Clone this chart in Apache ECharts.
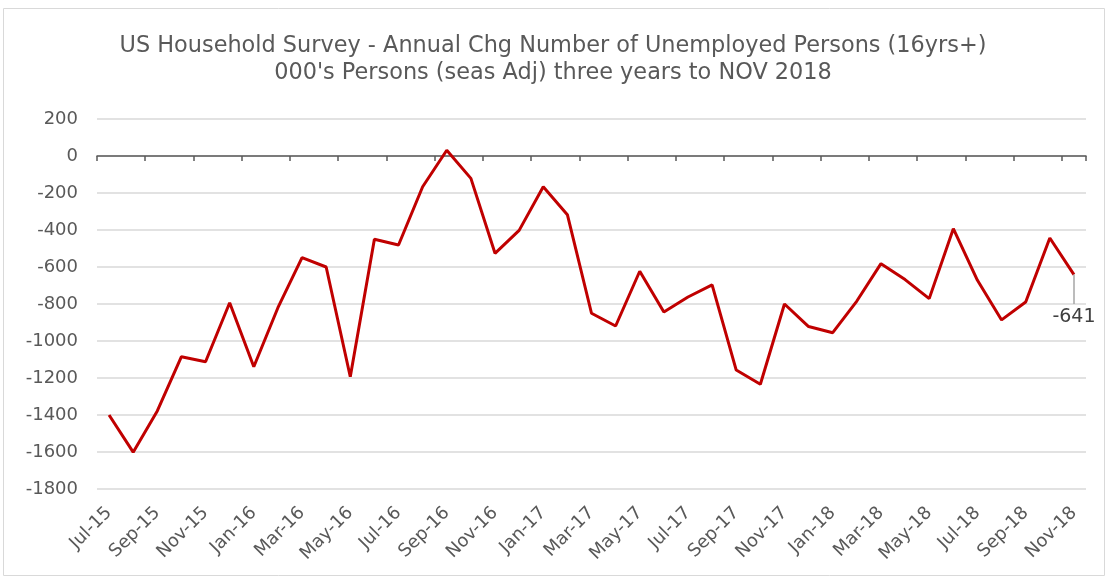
<!DOCTYPE html>
<html>
<head>
<meta charset="utf-8">
<script src="https://cdn.jsdelivr.net/npm/echarts@6/dist/echarts.min.js"></script>
<style>
  html, body { margin: 0; padding: 0; background: #fff; }
  #chart { width: 1106px; height: 578px; }
</style>
</head>
<body>
<div id="chart"></div>
<script>
var months = [
  'Jul-15', 'Aug-15', 'Sep-15', 'Oct-15', 'Nov-15', 'Dec-15',
  'Jan-16', 'Feb-16', 'Mar-16', 'Apr-16', 'May-16', 'Jun-16',
  'Jul-16', 'Aug-16', 'Sep-16', 'Oct-16', 'Nov-16', 'Dec-16',
  'Jan-17', 'Feb-17', 'Mar-17', 'Apr-17', 'May-17', 'Jun-17',
  'Jul-17', 'Aug-17', 'Sep-17', 'Oct-17', 'Nov-17', 'Dec-17',
  'Jan-18', 'Feb-18', 'Mar-18', 'Apr-18', 'May-18', 'Jun-18',
  'Jul-18', 'Aug-18', 'Sep-18', 'Oct-18', 'Nov-18'
]
var annualChg = [
  -1400, -1601, -1378, -1085, -1112, -793,
  -1139, -820, -549, -600, -1193, -450,
  -481, -166, 31, -121, -526, -402,
  -166, -317, -850, -919, -623, -843,
  -762, -697, -1157, -1234, -800, -922,
  -955, -784, -582, -668, -771, -393,
  -672, -886, -789, -443, -641
]
// the callout leader runs from the last value down to this level
var calloutTo = -800
var grey = '#595959'
var font = 'DejaVu Sans, sans-serif'

var lastIdx = annualChg.length - 1

var chart = echarts.init(document.getElementById('chart'))
chart.setOption({
  animation: false,
  title: {
    text: 'US Household Survey - Annual Chg Number of Unemployed Persons (16yrs+)\n000\'s Persons (seas Adj) three years to NOV 2018',
    left: 'center',
    top: 28,
    textStyle: {
      color: grey,
      fontSize: 22.4,
      fontWeight: 'normal',
      fontFamily: font,
      lineHeight: 27
    }
  },
  graphic: [{
    type: 'rect',
    shape: { x: 3.5, y: 8.5, width: 1101, height: 567 },
    style: { fill: 'none', stroke: '#d9d9d9', lineWidth: 1 },
    silent: true
  }],
  grid: { left: 97, right: 20, top: 119, bottom: 89 },
  xAxis: [
    {
      type: 'category',
      data: months,
      boundaryGap: true,
      axisLine: { onZero: true, lineStyle: { color: '#595959', width: 1.5 } },
      axisTick: { show: true, interval: 1, length: 5, lineStyle: { color: '#595959', width: 1.5 } },
      axisLabel: { show: false },
      splitLine: { show: false }
    },
    {
      type: 'category',
      data: months,
      position: 'bottom',
      boundaryGap: true,
      axisLine: { show: false, onZero: false },
      axisTick: { show: false },
      axisLabel: {
        interval: 1,
        rotate: 45,
        margin: 21,
        color: grey,
        fontSize: 18,
        fontFamily: font
      },
      splitLine: { show: false }
    }
  ],
  yAxis: {
    type: 'value',
    min: -1800,
    max: 200,
    interval: 200,
    axisLine: { show: false },
    axisTick: { show: false },
    axisLabel: {
      margin: 19,
      color: grey,
      fontSize: 18,
      fontFamily: font,
      formatter: function (v) { return String(v) }
    },
    splitLine: { lineStyle: { color: '#d9d9d9', width: 1.5 } }
  },
  series: [{
    type: 'line',
    xAxisIndex: 0,
    data: annualChg,
    symbol: 'none',
    lineStyle: { color: '#c00000', width: 3 },
    itemStyle: { color: '#c00000' },
    z: 3,
    markLine: {
      silent: true,
      symbol: 'none',
      lineStyle: { color: '#a6a6a6', width: 1.5, type: 'solid' },
      label: {
        position: 'end',
        distance: 4,
        color: '#404040',
        fontSize: 19,
        fontFamily: font,
        formatter: function () { return String(annualChg[lastIdx]) }
      },
      data: [[
        { coord: [months[lastIdx], annualChg[lastIdx]] },
        { coord: [months[lastIdx], calloutTo] }
      ]]
    }
  }]
})
</script>
</body>
</html>
